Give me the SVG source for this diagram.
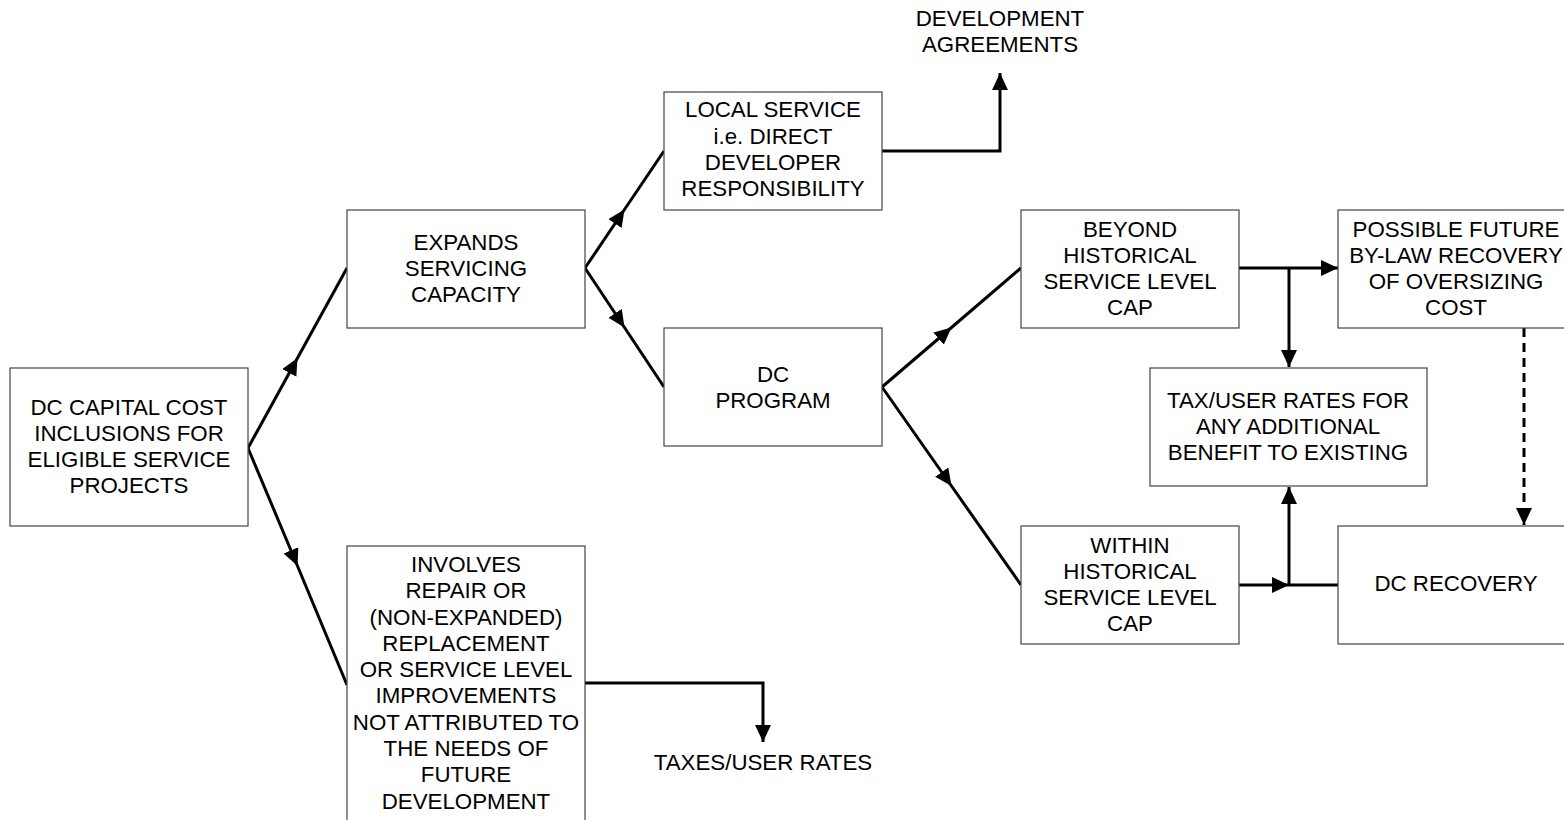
<svg xmlns="http://www.w3.org/2000/svg" width="1564" height="820" viewBox="0 0 1564 820">
<style>
.box{fill:#fff;stroke:#444;stroke-width:1.2}
.t{font-family:"Liberation Sans",Arial,sans-serif;font-size:22.3px;fill:#000;text-anchor:middle}
.c{fill:none;stroke:#000;stroke-width:3}
.d{stroke-dasharray:9,6}
</style>
<defs>
<marker id="ah" markerUnits="userSpaceOnUse" markerWidth="19" markerHeight="17" refX="17" refY="8" orient="auto">
<path d="M0,0 L17,8 L0,16 z" fill="#000"/>
</marker>
</defs>
<rect width="1564" height="820" fill="#fff"/>
<g id="connectors">
<polyline class="c" points="248,448 297.5,358 347,268" marker-mid="url(#ah)"/>
<polyline class="c" points="248,448 297.5,566 347,685" marker-mid="url(#ah)"/>
<polyline class="c" points="585,268 624.5,209.5 664,151" marker-mid="url(#ah)"/>
<polyline class="c" points="585,268 624.5,327.5 664,387" marker-mid="url(#ah)"/>
<polyline class="c" points="882,151 1000,151 1000,73" marker-end="url(#ah)"/>
<polyline class="c" points="882,387 951.5,327.5 1021,268" marker-mid="url(#ah)"/>
<polyline class="c" points="882,387 951.5,486 1021,585" marker-mid="url(#ah)"/>
<polyline class="c" points="1239,268 1338,268" marker-end="url(#ah)"/>
<polyline class="c" points="1289,268 1289,367" marker-end="url(#ah)"/>
<polyline class="c" points="1239,585 1289,585 1338,585" marker-mid="url(#ah)"/>
<polyline class="c" points="1289,585 1289,487" marker-end="url(#ah)"/>
<polyline class="c d" points="1524,328 1524,525" marker-end="url(#ah)"/>
<polyline class="c" points="585,683 763,683 763,742" marker-end="url(#ah)"/>
</g>
<g id="n1"><rect class="box" x="10" y="368" width="238" height="158"/>
<text class="t"><tspan x="129" y="415">DC CAPITAL COST</tspan><tspan x="129" y="441">INCLUSIONS FOR</tspan><tspan x="129" y="467">ELIGIBLE SERVICE</tspan><tspan x="129" y="493">PROJECTS</tspan></text></g>
<g id="n2"><rect class="box" x="347" y="210" width="238" height="118"/>
<text class="t"><tspan x="466" y="250">EXPANDS</tspan><tspan x="466" y="276">SERVICING</tspan><tspan x="466" y="302">CAPACITY</tspan></text></g>
<g id="n3"><rect class="box" x="347" y="546" width="238" height="290"/>
<text class="t"><tspan x="466" y="572">INVOLVES</tspan><tspan x="466" y="598">REPAIR OR</tspan><tspan x="466" y="625">(NON-EXPANDED)</tspan><tspan x="466" y="651">REPLACEMENT</tspan><tspan x="466" y="677">OR SERVICE LEVEL</tspan><tspan x="466" y="703">IMPROVEMENTS</tspan><tspan x="466" y="730">NOT ATTRIBUTED TO</tspan><tspan x="466" y="756">THE NEEDS OF</tspan><tspan x="466" y="782">FUTURE</tspan><tspan x="466" y="809">DEVELOPMENT</tspan></text></g>
<g id="n4"><rect class="box" x="664" y="92" width="218" height="118"/>
<text class="t"><tspan x="773" y="117">LOCAL SERVICE</tspan><tspan x="773" y="144">i.e. DIRECT</tspan><tspan x="773" y="170">DEVELOPER</tspan><tspan x="773" y="196">RESPONSIBILITY</tspan></text></g>
<g id="n5"><rect class="box" x="664" y="328" width="218" height="118"/>
<text class="t"><tspan x="773" y="382">DC</tspan><tspan x="773" y="408">PROGRAM</tspan></text></g>
<g id="n6"><rect class="box" x="1021" y="210" width="218" height="118"/>
<text class="t"><tspan x="1130" y="237">BEYOND</tspan><tspan x="1130" y="263">HISTORICAL</tspan><tspan x="1130" y="289">SERVICE LEVEL</tspan><tspan x="1130" y="315">CAP</tspan></text></g>
<g id="n7"><rect class="box" x="1021" y="526" width="218" height="118"/>
<text class="t"><tspan x="1130" y="553">WITHIN</tspan><tspan x="1130" y="579">HISTORICAL</tspan><tspan x="1130" y="605">SERVICE LEVEL</tspan><tspan x="1130" y="631">CAP</tspan></text></g>
<g id="n8"><rect class="box" x="1338" y="210" width="240" height="118"/>
<text class="t"><tspan x="1456" y="237">POSSIBLE FUTURE</tspan><tspan x="1456" y="263">BY-LAW RECOVERY</tspan><tspan x="1456" y="289">OF OVERSIZING</tspan><tspan x="1456" y="315">COST</tspan></text></g>
<g id="n9"><rect class="box" x="1150" y="368" width="277" height="118"/>
<text class="t"><tspan x="1288" y="408">TAX/USER RATES FOR</tspan><tspan x="1288" y="434">ANY ADDITIONAL</tspan><tspan x="1288" y="460">BENEFIT TO EXISTING</tspan></text></g>
<g id="n10"><rect class="box" x="1338" y="526" width="240" height="118"/>
<text class="t"><tspan x="1456" y="591">DC RECOVERY</tspan></text></g>
<g id="n11"><text class="t"><tspan x="763" y="770">TAXES/USER RATES</tspan></text></g>
<g id="n12"><text class="t"><tspan x="1000" y="26">DEVELOPMENT</tspan><tspan x="1000" y="52">AGREEMENTS</tspan></text></g>
</svg>
